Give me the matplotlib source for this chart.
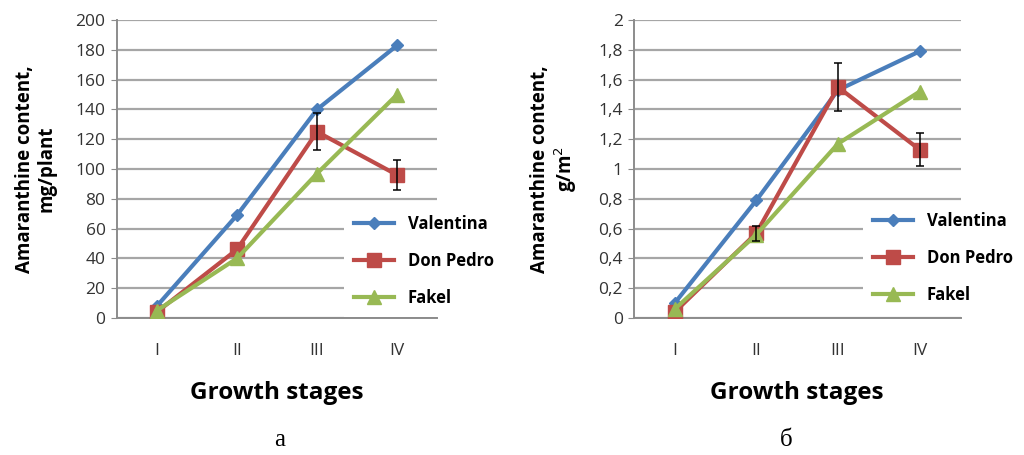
import matplotlib
matplotlib.use("Agg")
import matplotlib.pyplot as plt
from matplotlib.ticker import FuncFormatter

stages = ["I", "II", "III", "IV"]
varieties = ["Valentina", "Don Pedro", "Fakel"]

# panel a: mg/plant
plant_valentina = [8, 69, 140, 183]
plant_donpedro = [4, 46, 125, 96]
plant_fakel = [5, 40, 97, 150]
plant_donpedro_err = [0, 0, 12.5, 10]

# panel b: g/m2
area_valentina = [0.10, 0.79, 1.53, 1.79]
area_donpedro = [0.04, 0.57, 1.55, 1.13]
area_fakel = [0.06, 0.56, 1.17, 1.52]
area_donpedro_err = [0, 0.05, 0.16, 0.11]

COLORS = ["#4a7ebb", "#be4b48", "#98b954"]
MARKERS = ["D", "s", "^"]
MSIZES = [6.5, 10.5, 10.5]
FONT = "Open Sans"

plt.rcParams["font.family"] = [FONT, "DejaVu Sans"]

fig = plt.figure(figsize=(10.24, 4.55), dpi=100)
ax_a = fig.add_axes([0.114, 0.301, 0.313, 0.655])
ax_b = fig.add_axes([0.619, 0.301, 0.319, 0.655])


def draw_panel(ax, series, errs, ymax, ystep, ylabel, legend_xy, comma):
    x = list(range(len(stages)))
    for i, (name, vals) in enumerate(zip(varieties, series)):
        ax.plot(x, vals, color=COLORS[i], lw=3.0, marker=MARKERS[i],
                ms=MSIZES[i], label=name, zorder=3 + i * 0.1 if i != 1 else 3.05)
    # error bars only where an error is given
    ex = [xi for xi, e in zip(x, errs) if e > 0]
    ey = [v for v, e in zip(series[1], errs) if e > 0]
    ee = [e for e in errs if e > 0]
    ax.errorbar(ex, ey, yerr=ee, fmt="none", ecolor="black",
                elinewidth=1.1, capsize=3, capthick=1.1, zorder=4)
    ax.set_xlim(-0.5, 3.5)
    ax.set_ylim(0, ymax)
    ticks = [round(k * ystep, 3) for k in range(int(round(ymax / ystep)) + 1)]
    ax.set_yticks(ticks)
    if comma:
        ax.yaxis.set_major_formatter(FuncFormatter(
            lambda v, p: ("%g" % v).replace(".", ",")))
    ax.set_xticks(x)
    ax.set_xticklabels(stages)
    ax.grid(axis="y", color="#a6a6a6", lw=1.6, zorder=0)
    ax.set_axisbelow(True)
    for s in ["top", "right"]:
        ax.spines[s].set_visible(False)
    ax.spines["left"].set_color("#8c8c8c")
    ax.spines["bottom"].set_color("#8c8c8c")
    ax.spines["left"].set_linewidth(1.4)
    ax.spines["bottom"].set_linewidth(1.4)
    ax.tick_params(axis="y", length=4, color="#8c8c8c", labelsize=12.5,
                   labelcolor="#333333", pad=4)
    ax.tick_params(axis="x", length=0, labelsize=12.5, labelcolor="#333333", pad=18)
    ax.set_ylabel(ylabel, fontsize=13.5, fontweight="bold", labelpad=14,
                  linespacing=1.1)
    ax.set_xlabel("Growth stages", fontsize=17.5, fontweight="bold", labelpad=16)
    leg = ax.legend(loc="upper left", bbox_to_anchor=legend_xy,
                    bbox_transform=fig.transFigure, frameon=True,
                    fancybox=False, edgecolor="none", facecolor="white",
                    framealpha=1, handlelength=2.4, labelspacing=1.15,
                    borderpad=0.6, prop={"family": FONT, "weight": "bold", "size": 12})
    leg.set_zorder(5)


draw_panel(ax_a, [plant_valentina, plant_donpedro, plant_fakel],
           plant_donpedro_err, 200, 20, "Amaranthine content,\nmg/plant",
           (0.328, 0.568), False)
draw_panel(ax_b, [area_valentina, area_donpedro, area_fakel],
           area_donpedro_err, 2, 0.2, "Amaranthine content,\ng/m$^2$",
           (0.835, 0.575), True)

fig.text(0.273, 0.02, "а", fontsize=18, family="Liberation Serif", ha="center")
fig.text(0.768, 0.02, "б", fontsize=18, family="Liberation Serif", ha="center")

fig.savefig("out.png", dpi=100)
